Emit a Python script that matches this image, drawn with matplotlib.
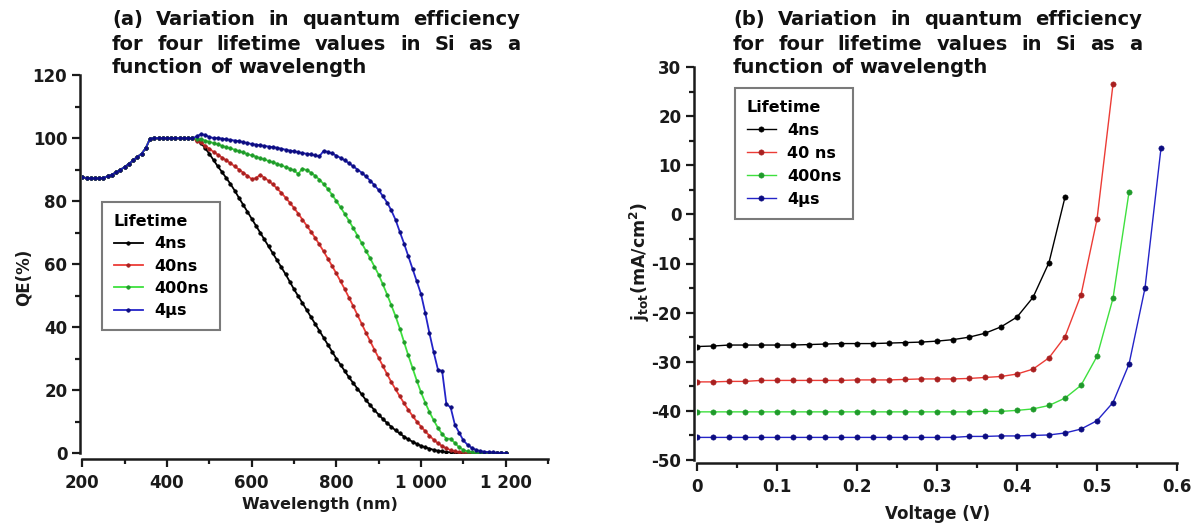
import matplotlib
matplotlib.use("Agg")
import matplotlib.pyplot as plt
from matplotlib.ticker import MultipleLocator, FixedLocator, FixedFormatter
from matplotlib.font_manager import FontProperties

plt.rcParams['font.family'] = ['DejaVu Sans']
plt.rcParams['font.weight'] = 'bold'
plt.rcParams['axes.unicode_minus'] = False
plt.rcParams['mathtext.fontset'] = 'dejavusans'

# ---------------- data: panel (a) QE vs wavelength ----------------
wavelength = list(range(200, 1210, 10))
qe_common = [87.5, 87.3, 87.2, 87.2, 87.2, 87.4, 87.8, 88.4, 89.1, 89.9,
             90.8, 91.8, 92.9, 94.0, 95.0, 96.8, 99.8, 100.0, 100.0, 100.0,
             100.0, 100.0, 100.0, 100.0, 100.0, 100.0, 99.9]
qe_4ns_tail = [99.5, 98.5, 96.8, 95.0, 93.0, 91.0, 89.2, 87.3, 85.4, 83.3,
               81.0, 78.8, 76.6, 74.4, 72.2, 70.0, 67.8, 65.6, 63.4, 61.2,
               59.0, 56.8, 54.4, 52.0, 49.8, 47.6, 45.4, 43.2, 41.0, 38.8,
               36.6, 34.4, 32.2, 30.0, 28.0, 26.0, 24.0, 22.2, 20.4, 18.6,
               16.8, 15.2, 13.6, 12.2, 10.8, 9.5, 8.3, 7.2, 6.2, 5.2,
               4.3, 3.6, 2.9, 2.3, 1.8, 1.4, 1.0, 0.7, 0.5, 0.3,
               0.2, 0.1, 0.1, 0.0, 0.0, 0.0, 0.0, 0.0, 0.0, 0.0,
               0.0, 0.0, 0.0, 0.0]
qe_40ns_tail = [99.2, 98.6, 97.6, 96.6, 95.6, 94.7, 93.8, 92.9, 92.0, 91.0,
                90.0, 89.0, 88.0, 87.0, 87.2, 88.3, 87.4, 86.4, 85.3, 84.0,
                82.6, 81.1, 79.5, 77.8, 76.0, 74.1, 72.2, 70.3, 68.3, 66.2,
                64.0, 61.7, 59.4, 57.0, 54.5, 52.0, 49.3, 46.6, 43.8, 41.0,
                38.2, 35.5, 32.8, 30.2, 27.6, 25.0, 22.5, 20.2, 18.0, 15.8,
                13.7, 11.8, 10.0, 8.4, 6.9, 5.5, 4.2, 3.1, 2.2, 1.5,
                0.9, 0.5, 0.3, 0.2, 0.1, 0.0, 0.0, 0.0, 0.0, 0.0,
                0.0, 0.0, 0.0, 0.0]
qe_400ns_tail = [99.8, 99.6, 99.2, 98.8, 98.4, 98.0, 97.5, 97.1, 96.7, 96.3,
                 95.8, 95.4, 94.9, 94.5, 94.1, 93.6, 93.2, 92.7, 92.3, 91.8,
                 91.3, 90.8, 90.3, 89.7, 88.6, 90.3, 89.8, 89.0, 88.0, 86.8,
                 85.4, 83.8, 82.0, 80.0, 78.0, 75.9, 73.7, 71.4, 69.0, 66.6,
                 64.2, 61.8, 59.2, 56.6, 53.5, 50.3, 46.9, 43.4, 39.5, 35.2,
                 31.0, 27.0, 23.0, 19.3, 16.0, 13.0, 10.4, 8.0, 6.0, 4.6,
                 4.5, 3.2, 1.8, 1.0, 0.5, 0.2, 0.1, 0.0, 0.0, 0.0,
                 0.0, 0.0, 0.0, 0.0]
qe_4us_tail = [100.5, 101.2, 101.0, 100.3, 100.0, 100.0, 99.8, 99.6, 99.4, 99.2,
               99.0, 98.7, 98.4, 98.1, 97.9, 97.7, 97.5, 97.3, 97.1, 96.9,
               96.6, 96.3, 96.0, 95.8, 95.5, 95.2, 95.0, 94.8, 94.5, 94.2,
               95.9, 95.6, 95.1, 94.4, 93.7, 92.9, 92.0, 91.0, 90.0, 89.0,
               87.8, 86.5, 85.0, 83.5, 81.5, 79.5, 77.0, 74.0, 70.2, 66.5,
               62.5, 58.5, 54.5, 50.5, 44.5, 38.0, 32.0, 26.5, 26.0, 15.5,
               14.5, 9.0, 6.5, 4.0, 2.6, 1.6, 1.0, 0.6, 0.4, 0.3,
               0.2, 0.1, 0.1, 0.0]
qe_labels = ['4ns', '40ns', '400ns', '4\u03bcs']

# ---------------- data: panel (b) J-V ----------------
voltage = [0.00, 0.02, 0.04, 0.06, 0.08, 0.10, 0.12, 0.14, 0.16, 0.18,
           0.20, 0.22, 0.24, 0.26, 0.28, 0.30, 0.32, 0.34, 0.36, 0.38,
           0.40, 0.42, 0.44, 0.46, 0.48, 0.50, 0.52, 0.54, 0.56, 0.58]
j_4ns = [-26.9, -26.8, -26.6, -26.6, -26.6, -26.6, -26.6, -26.5, -26.4, -26.3,
         -26.3, -26.3, -26.2, -26.1, -26.0, -25.8, -25.5, -25.0, -24.2, -22.9,
         -20.9, -16.9, -9.8, 3.5]
j_40ns = [-34.1, -34.1, -34.0, -34.0, -33.8, -33.8, -33.8, -33.8, -33.8, -33.8,
          -33.7, -33.7, -33.7, -33.6, -33.5, -33.5, -33.5, -33.4, -33.2, -33.0,
          -32.5, -31.5, -29.2, -24.9, -16.4, -1.0, 26.5]
j_400ns = [-40.2, -40.2, -40.2, -40.2, -40.2, -40.2, -40.2, -40.2, -40.2, -40.2,
           -40.2, -40.2, -40.2, -40.2, -40.2, -40.2, -40.2, -40.2, -40.1, -40.1,
           -39.9, -39.6, -38.9, -37.4, -34.8, -28.9, -17.1, 4.5]
j_4us = [-45.4, -45.4, -45.4, -45.4, -45.4, -45.4, -45.4, -45.4, -45.4, -45.4,
         -45.4, -45.4, -45.4, -45.4, -45.4, -45.4, -45.4, -45.2, -45.2, -45.1,
         -45.1, -45.0, -44.9, -44.5, -43.7, -42.0, -38.3, -30.5, -15.0, 13.5]
jv_labels = ['4ns', '40 ns', '400ns', '4\u03bcs']

line_colors = ['#000000', '#ec3c36', '#3ee03e', '#2424c8']
marker_colors = ['#000000', '#a82020', '#1f9a2a', '#0c0c80']

W, H = 1201, 523
fig = plt.figure(figsize=(W / 100, H / 100), dpi=100)
fig.patch.set_facecolor('white')


def px_axes(x0, x1, ytop, ybot):
    return fig.add_axes([x0 / W, 1 - ybot / H, (x1 - x0) / W, (ybot - ytop) / H])


def style_axes(ax, xoff, yoff):
    for s in ['top', 'right']:
        ax.spines[s].set_visible(False)
    for s in ['left', 'bottom']:
        ax.spines[s].set_linewidth(1.8)
        ax.spines[s].set_color('#1a1a1a')
    ax.spines['left'].set_position(('outward', yoff))
    ax.spines['bottom'].set_position(('outward', xoff))
    ax.tick_params(which='major', direction='out', length=5.8, width=1.6,
                   labelsize=12, colors='#1a1a1a')
    ax.tick_params(which='minor', direction='out', length=3.6, width=1.6,
                   colors='#1a1a1a')
    ax.tick_params(axis='y', which='major', pad=3.5)
    ax.tick_params(axis='x', which='major', pad=5.5)
    for lab in ax.get_xticklabels() + ax.get_yticklabels():
        lab.set_fontweight('bold')


# ---------------- panel (a) ----------------
axa = px_axes(82.3, 548, 75, 453)
series_a = [qe_common + qe_4ns_tail, qe_common + qe_40ns_tail,
            qe_common + qe_400ns_tail, qe_common + qe_4us_tail]
handles_a = []
for vals, lc, mc, lab in zip(series_a, line_colors, marker_colors, qe_labels):
    h, = axa.plot(wavelength, vals, color=lc, lw=1.3, marker='o', ms=2.6,
                  mfc=mc, mec=mc, mew=0.4, label=lab)
    handles_a.append(h)
axa.set_xlim(200, 1300)
axa.set_ylim(0, 120)
axa.xaxis.set_major_locator(FixedLocator([200, 400, 600, 800, 1000, 1200]))
axa.xaxis.set_major_formatter(FixedFormatter(['200', '400', '600', '800', '1 000', '1 200']))
axa.xaxis.set_minor_locator(MultipleLocator(100))
axa.yaxis.set_major_locator(MultipleLocator(20))
axa.yaxis.set_minor_locator(MultipleLocator(10))
style_axes(axa, 4, 1.5)

# ---------------- panel (b) ----------------
axb = px_axes(697, 1177, 67, 460)
series_b = [j_4ns, j_40ns, j_400ns, j_4us]
handles_b = []
for vals, lc, mc, lab in zip(series_b, line_colors, marker_colors, jv_labels):
    h, = axb.plot(voltage[:len(vals)], vals, color=lc, lw=1.0, marker='o',
                  ms=3.8, mfc=mc, mec=mc, mew=0.4, label=lab)
    handles_b.append(h)
axb.set_xlim(0, 0.6)
axb.set_ylim(-50, 30)
axb.xaxis.set_major_locator(FixedLocator([0, 0.1, 0.2, 0.3, 0.4, 0.5, 0.6]))
axb.xaxis.set_major_formatter(FixedFormatter(['0', '0.1', '0.2', '0.3', '0.4', '0.5', '0.6']))
axb.xaxis.set_minor_locator(MultipleLocator(0.05))
axb.yaxis.set_major_locator(MultipleLocator(10))
axb.yaxis.set_minor_locator(MultipleLocator(5))
style_axes(axb, 2, 2)

# ---------------- legends ----------------
legfont = FontProperties(family='DejaVu Sans', weight='bold', size=11.5)


def make_legend(ax, handles, labels, x, y, spacing):
    leg = ax.legend(handles, labels, title='Lifetime', loc='upper left',
                    bbox_to_anchor=(x / W, 1 - y / H), bbox_transform=fig.transFigure,
                    prop=legfont, title_fontproperties=legfont, alignment='left',
                    frameon=True, fancybox=False, edgecolor='#7a7a7a', framealpha=1,
                    handlelength=1.8, handletextpad=0.7, borderpad=0.75,
                    labelspacing=spacing, borderaxespad=0, numpoints=1)
    leg.get_frame().set_linewidth(1.5)
    return leg


make_legend(axa, handles_a, qe_labels, 102, 202, 0.46)
make_legend(axb, handles_b, jv_labels, 735, 88, 0.5)

# ---------------- axis labels ----------------
fig.text(24 / W, 1 - 277 / H, 'QE(%)', rotation=90, ha='center', va='center',
         fontsize=12, fontweight='bold', color='#1a1a1a')
fig.text(320 / W, 1 - 505 / H, 'Wavelength (nm)', ha='center', va='center',
         fontsize=11.5, fontweight='bold', color='#1a1a1a')
fig.text(640 / W, 1 - 262 / H,
         r'$\mathbf{j}_{\mathbf{tot}}\mathbf{(mA/cm}^{\mathbf{2}}\mathbf{)}$',
         rotation=90, ha='center', va='center', fontsize=12.5, color='#1a1a1a')
fig.text(938 / W, 1 - 514 / H, 'Voltage (V)', ha='center', va='center',
         fontsize=12, fontweight='bold', color='#1a1a1a')

# ---------------- justified titles ----------------
renderer = fig.canvas.get_renderer()


def text_width(s, size):
    t = fig.text(0, 0, s, fontsize=size, fontweight='bold')
    w = t.get_window_extent(renderer).width
    t.remove()
    return w


title_lines = [
    ['Variation', 'in', 'quantum', 'efficiency'],
    ['for', 'four', 'lifetime', 'values', 'in', 'Si', 'as', 'a'],
    ['function', 'of', 'wavelength'],
]
size10 = text_width('function of wavelength', 10)
tsize = 10 * 255 / size10


def draw_title(prefix, x0, x1, baselines):
    lines = [[prefix] + title_lines[0], title_lines[1], title_lines[2]]
    for i, (words, yb) in enumerate(zip(lines, baselines)):
        widths = [text_width(w, tsize) for w in words]
        if i < 2:
            gap = (x1 - x0 - sum(widths)) / (len(words) - 1)
        else:
            gap = text_width('a a', tsize) - 2 * text_width('a', tsize)
        x = x0
        for w, wd in zip(words, widths):
            fig.text(x / W, 1 - yb / H, w, ha='left', va='baseline',
                     fontsize=tsize, fontweight='bold', color='#111111')
            x += wd + gap


draw_title('(a)', 112, 520, [25, 50, 73])
draw_title('(b)', 733, 1142, [25, 50, 73])

fig.savefig('out.png', dpi=100, facecolor='white')
